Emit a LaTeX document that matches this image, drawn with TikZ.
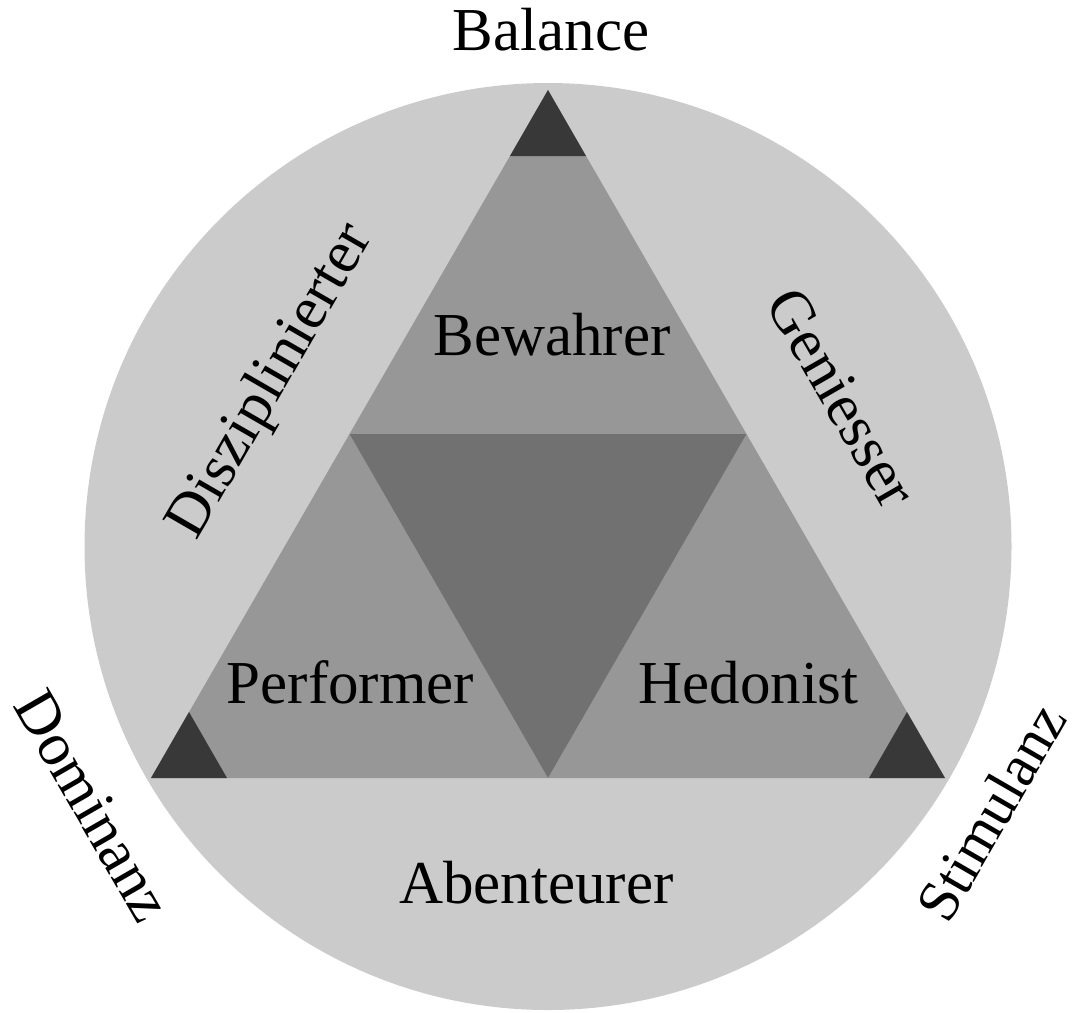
\documentclass[tikz,border=0pt]{standalone}
\usepackage{fontspec}
\setmainfont{Liberation Serif}
\definecolor{circfill}{HTML}{CBCBCB}
\definecolor{outerfill}{HTML}{979797}
\definecolor{centerfill}{HTML}{717171}
\definecolor{cornerfill}{HTML}{383838}
\begin{document}
\begin{tikzpicture}[x=1pt,y=-1pt,
  lbl/.style={font=\fontsize{61}{61}\selectfont, inner sep=0pt, text=black},
  outertri/.style={fill=outerfill},
  centertri/.style={fill=centerfill},
  cornertri/.style={fill=cornerfill},
]
\useasboundingbox (0,0) rectangle (1073,1012);
\fill[circfill] (548,546.5) circle (463.5pt);
% main vertices and midpoints
\coordinate (T) at (548,90);
\coordinate (L) at (151,778);
\coordinate (R) at (945,778);
\coordinate (ML) at (349.5,434);
\coordinate (MR) at (746.5,434);
\coordinate (MB) at (548,778);
% outer triangles
\fill[outertri] (T) -- (ML) -- (MR) -- cycle;
\fill[outertri] (ML) -- (L) -- (MB) -- cycle;
\fill[outertri] (MR) -- (MB) -- (R) -- cycle;
% centre triangle
\fill[centertri] (ML) -- (MR) -- (MB) -- cycle;
% corner triangles
\fill[cornertri] (T) -- (510,156) -- (586,156) -- cycle;
\fill[cornertri] (L) -- (227,778) -- (189,712) -- cycle;
\fill[cornertri] (R) -- (869,778) -- (907,712) -- cycle;
% labels
\node[lbl, anchor=base] (balance) at (551,50) {Balance};
\node[lbl, anchor=base] (bewahrer) at (552,355) {Bewahrer};
\node[lbl, anchor=base] (performer) at (350.5,703) {Performer};
\node[lbl, anchor=base] (hedonist) at (748.5,703) {Hedonist};
\node[lbl, anchor=base] (abenteurer) at (536.5,903) {Abenteurer};
\node[lbl, rotate=60] (disz) at (272,382) {Disziplinierter};
\node[lbl, rotate=-60] (gen) at (842,398) {Geniesser};
\node[lbl, rotate=-60] (dom) at (93,806) {Dominanz};
\node[lbl, rotate=60, font=\fontsize{59}{59}\selectfont] (stim) at (991,812) {Stimulanz};
\end{tikzpicture}
\end{document}
